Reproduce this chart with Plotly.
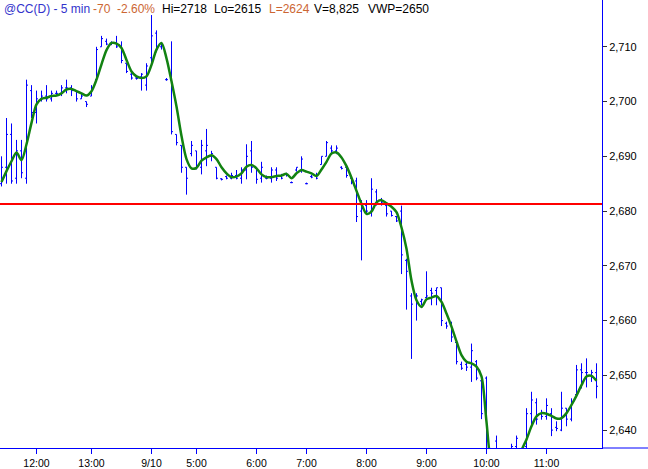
import plotly.graph_objects as go

# ---- data ----
bar_index = list(range(120))

high = [2690, 2697, 2696, 2693, 2693, 2704, 2703, 2702, 2702, 2703,
        2702, 2702, 2703, 2704, 2703, 2702, 2701.5, 2700, 2703, 2710,
        2712, 2711.5, 2711, 2712, 2711, 2707, 2705.2, 2704.5, 2705.2, 2707,
        2715.8, 2713, 2710.7, 2704.3, 2711, 2694, 2692, 2688, 2692.8, 2691,
        2693, 2695, 2691, 2688, 2686, 2686.5, 2687, 2687.5, 2688, 2692.2,
        2692.8, 2688, 2689, 2686.5, 2688, 2688, 2686.8, 2687, 2685.4, 2688,
        2690, 2685.2, 2686.6, 2687, 2690, 2692.8, 2692, 2692, 2688.2, 2688,
        2686.1, 2686.1, 2682, 2682, 2686, 2684, 2682.4, 2681.6, 2680, 2679.1,
        2681, 2671.3, 2665, 2665, 2664, 2669, 2666, 2666, 2666, 2659.8,
        2659.8, 2656.1, 2652.5, 2652.5, 2655.8, 2652.8, 2649.1, 2649.8, 2636, 2639,
        2635.5, 2636, 2637.5, 2639, 2636, 2644, 2647, 2645.8, 2643.7, 2645.8,
        2644, 2641.6, 2647, 2644, 2645.8, 2651.9, 2652.2, 2653.1, 2651, 2652.2]

low = [2684.5, 2685, 2685, 2685, 2686, 2685, 2697, 2696, 2700, 2700,
       2700, 2701, 2701, 2701.5, 2701, 2700, 2700.5, 2699, 2701, 2704,
       2710, 2710.3, 2710.3, 2709.8, 2707, 2705.2, 2704, 2704, 2702, 2702,
       2706.4, 2709, 2709.5, 2703.8, 2694, 2692, 2687, 2683, 2690, 2687.6,
       2686.7, 2688.2, 2689.1, 2685.8, 2685.6, 2685.8, 2685.8, 2685.8, 2685, 2685.8,
       2687, 2685, 2685.2, 2685.8, 2685.2, 2685.5, 2685.8, 2686.3, 2685.1, 2687.2,
       2687, 2684.9, 2686, 2685.8, 2688.5, 2690, 2690.4, 2690.4, 2687.6, 2686.1,
       2684.9, 2678, 2671, 2679.5, 2679, 2681, 2681, 2679, 2679, 2678,
       2668.5, 2662, 2653, 2660, 2662.8, 2664, 2662.8, 2662.8, 2659, 2658.5,
       2656.1, 2652, 2651, 2650.8, 2648.8, 2649.1, 2642, 2636, 2633, 2634,
       2632, 2632, 2634, 2635, 2633, 2636, 2640.7, 2641, 2641.9, 2641.9,
       2638.9, 2639.8, 2639.8, 2640.7, 2641.6, 2646.1, 2647.6, 2647.8, 2648.8, 2645.8]

open_ = [2685, 2688, 2694, 2686, 2691, 2686, 2702, 2698, 2700.5, 2701,
         2700.5, 2701.5, 2701.5, 2702.5, 2702.5, 2702, 2700.5, 2700, 2701, 2704,
         2710, 2711, 2710.5, 2710.7, 2710, 2707, 2705, 2704.3, 2704.5, 2703,
         2708, 2712.5, 2710, 2704, 2704, 2694, 2692, 2688, 2690.5, 2691,
         2688, 2691, 2690, 2688, 2685.9, 2686.3, 2686, 2686.5, 2686, 2687.5,
         2691, 2688, 2686, 2686, 2686, 2687.5, 2686.5, 2686.8, 2685.2, 2687.5,
         2687.5, 2685, 2686.3, 2686.5, 2688.5, 2690, 2691.5, 2691, 2688, 2688,
         2686, 2685.5, 2680, 2681, 2680, 2683.5, 2682, 2681, 2680, 2679,
         2680, 2671, 2664.5, 2664, 2663.5, 2664.2, 2665.5, 2665.5, 2666, 2659.5,
         2659.5, 2656, 2652, 2652, 2651.5, 2652.5, 2649, 2649.5, 2635.5, 2638,
         2635, 2633, 2635, 2637, 2634.5, 2637, 2643, 2645, 2643, 2642.5,
         2643, 2640.5, 2640, 2644, 2642, 2646.5, 2651, 2650.5, 2650, 2650.5]

close = [2688, 2694, 2685.5, 2691, 2687, 2703, 2698, 2700.5, 2701, 2700.5,
         2701.5, 2701.5, 2702.5, 2702.5, 2702, 2700.5, 2701, 2699.5, 2702.5, 2709.5,
         2711.5, 2710.5, 2710.7, 2710, 2707.5, 2705.5, 2704.3, 2704.2, 2705, 2706.5,
         2712, 2709.5, 2710.5, 2704, 2694.5, 2692.5, 2688, 2686, 2692, 2688,
         2692, 2692, 2690.5, 2686, 2685.8, 2686, 2686.5, 2686, 2687.5, 2690,
         2688, 2685.8, 2688, 2686, 2687.5, 2686, 2686, 2686.5, 2685.2, 2688,
         2689.5, 2685, 2686.2, 2686, 2690, 2692.5, 2691, 2691.5, 2687.8, 2686.5,
         2685.2, 2679, 2680.5, 2680, 2684, 2681.5, 2681.5, 2679.5, 2679.2, 2678.2,
         2672, 2669, 2663, 2664.5, 2663.8, 2664.5, 2665, 2666, 2660, 2659,
         2657, 2652.5, 2651.3, 2651.5, 2654.5, 2649.5, 2643, 2638, 2634, 2635,
         2633, 2635, 2637, 2638.5, 2635.5, 2643, 2645.5, 2642, 2642.5, 2644.5,
         2640, 2640.3, 2644, 2642, 2645, 2651, 2650.5, 2650.5, 2650.5, 2648]

smooth = [2685.3, 2687.3, 2689.1, 2690.7, 2689.3, 2692.2, 2696.1, 2699.5, 2700.5, 2700.7,
          2701.0, 2701.1, 2701.5, 2702.2, 2702.3, 2701.9, 2701.5, 2701.1, 2701.9, 2704.0,
          2706.8, 2709.4, 2710.7, 2710.6, 2709.8, 2707.6, 2705.5, 2704.6, 2704.3, 2704.6,
          2706.7, 2709.5, 2710.7, 2707.9, 2703.7, 2699.1, 2693.7, 2689.5, 2687.8, 2687.9,
          2689.2, 2689.8, 2690.2, 2689.5, 2688.0, 2686.9, 2686.2, 2686.3, 2686.9, 2688.1,
          2688.4, 2687.8, 2686.7, 2686.2, 2686.2, 2686.4, 2686.5, 2686.8, 2686.0, 2686.9,
          2687.5, 2687.2, 2686.9, 2686.4, 2687.6, 2689.0, 2690.5, 2690.7, 2689.8, 2688.2,
          2686.1, 2683.7, 2681.3, 2679.5, 2679.9, 2681.6, 2682.0, 2681.4, 2680.8, 2679.8,
          2677.0, 2673.1, 2667.3, 2663.7, 2662.5, 2663.9, 2664.2, 2664.5, 2663.4, 2661.3,
          2658.9, 2656.2, 2653.7, 2652.5, 2652.2, 2651.6, 2649.8, 2641.5, 2633.0, 2630.5,
          2629.5, 2630.0, 2631.5, 2633.8, 2636.3, 2638.3, 2640.7, 2642.5, 2643.1, 2643.0,
          2642.6, 2642.1, 2642.2, 2643.1, 2644.6, 2646.3, 2648.2, 2649.8, 2649.9, 2649.0]

ref_level = 2681.3

tick_pos = [7, 18, 30, 39, 51, 61, 73, 85, 97, 109]
tick_text = ["12:00", "13:00", "9/10", "5:00", "6:00", "7:00", "8:00", "9:00", "10:00", "11:00"]
y_ticks = [2640, 2650, 2660, 2670, 2680, 2690, 2700, 2710]

header = [("@CC(D) - 5 min", "#3333CC", 1.7),
          ("-70", "#CC6633", 90.7),
          ("-2.60%", "#CC6633", 115),
          ("Hi=2718", "#000000", 160),
          ("Lo=2615", "#000000", 212),
          ("L=2624", "#CC6633", 267),
          ("V=8,825", "#000000", 312),
          ("VWP=2650", "#000000", 366)]

# ---- figure ----
W, H = 648, 469
ML, MR, MT, MB = 0, 46, 0, 19
PW, PH = W - ML - MR, H - MT - MB

fig = go.Figure()
fig.add_trace(go.Ohlc(
    x=bar_index, open=open_, high=high, low=low, close=close,
    increasing=dict(line=dict(color="#0000FF", width=1)),
    decreasing=dict(line=dict(color="#0000FF", width=1)),
    tickwidth=0.3, showlegend=False, hoverinfo="skip"))
fig.add_trace(go.Scatter(
    x=bar_index, y=smooth, mode="lines",
    line=dict(color="#128212", width=2.5, shape="spline", smoothing=0.8),
    showlegend=False, hoverinfo="skip"))

fig.add_shape(type="line", xref="paper", yref="y", x0=0, x1=1,
              y0=ref_level, y1=ref_level, line=dict(color="#FF0000", width=2))
fig.add_shape(type="line", xref="paper", yref="paper", x0=1, x1=W / PW,
              y0=0, y1=0, line=dict(color="#0000FF", width=1))

for txt, col, px in header:
    fig.add_annotation(text=txt, xref="paper", yref="paper",
                       x=px / PW, y=1 - 9 / PH, xanchor="left", yanchor="middle",
                       showarrow=False,
                       font=dict(family="Liberation Sans, Arial", size=12, color=col))

fig.update_layout(
    width=W, height=H,
    margin=dict(l=ML, r=MR, t=MT, b=MB, pad=0),
    paper_bgcolor="white", plot_bgcolor="white",
    xaxis=dict(range=[-0.3, 120.1], tickvals=tick_pos, ticktext=tick_text,
               showgrid=False, zeroline=False, showline=True, linecolor="#0000FF",
               linewidth=1, ticks="outside", ticklen=5, tickcolor="#0000FF",
               tickfont=dict(family="Liberation Sans, Arial", size=10.5, color="#000000"),
               rangeslider=dict(visible=False), fixedrange=True),
    yaxis=dict(range=[2636.73, 2718.55], side="right", tickvals=y_ticks,
               tickformat=",d", showgrid=False, zeroline=False, showline=True,
               linecolor="#0000FF", linewidth=1, ticks="outside", ticklen=4,
               tickcolor="#333333",
               tickfont=dict(family="Liberation Sans, Arial", size=11, color="#000000"),
               fixedrange=True),
)

fig.write_html("out.html", config={"displayModeBar": False},
               post_script="document.body.style.margin='0';document.body.style.overflow='hidden';")
